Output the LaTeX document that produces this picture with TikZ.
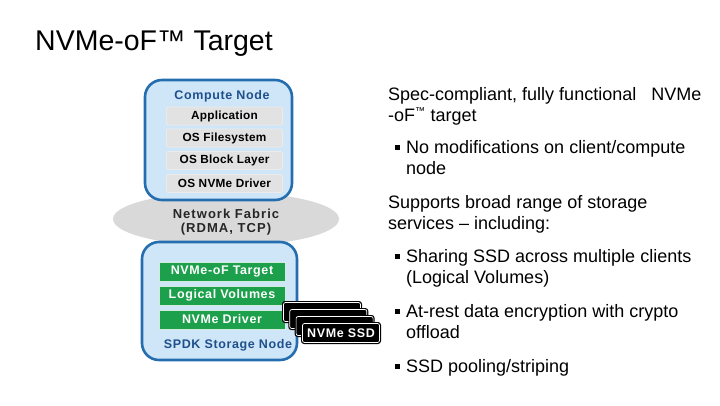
\documentclass[tikz,border=0pt]{standalone}
\usepackage{fontspec}
\setmainfont{Liberation Sans}
\newfontfamily\spacedfont[LetterSpace=5]{Liberation Sans}
\newfontfamily\widefont[LetterSpace=8]{Liberation Sans}
\newfontfamily\layerfont[LetterSpace=2]{Liberation Sans}
\usetikzlibrary{shapes.geometric}
\definecolor{nodeblue}{RGB}{36,110,175}
\definecolor{nodefill}{RGB}{207,229,248}
\definecolor{labelblue}{RGB}{30,80,140}
\definecolor{layergray}{RGB}{226,226,226}
\definecolor{fabricgray}{RGB}{217,217,217}
\definecolor{layergreen}{RGB}{28,160,75}
\begin{document}
\begin{tikzpicture}[x=1pt,y=-1pt,
  hostbox/.style={draw=nodeblue,line width=2.6pt,fill=nodefill,rounded corners=17pt},
  graylayer/.style={draw=white!92!black,line width=0.8pt,fill=layergray,rounded corners=1.5pt,minimum width=116pt,minimum height=18pt,inner sep=0pt,font=\layerfont\fontsize{11.8}{12}\selectfont\bfseries},
  greenlayer/.style={draw=white!80!layergreen,line width=0.5pt,fill=layergreen,text=white,minimum width=126pt,minimum height=19pt,inner sep=0pt,font=\spacedfont\fontsize{12.5}{13}\selectfont\bfseries},
  hostlabel/.style={text=labelblue,font=\spacedfont\fontsize{12.5}{13}\selectfont\bfseries,inner sep=0pt},
  bodytext/.style={anchor=base west,inner sep=0pt,font=\fontsize{18}{20}\selectfont},
  bulletsq/.style={fill=black,minimum size=5pt,inner sep=0pt},
  ssdcard/.style={fill=black,draw=white,line width=0.7pt,rounded corners=2pt}
]
\useasboundingbox (0,0) rectangle (720,405);
% title
\node[anchor=base west,inner sep=0pt,font=\fontsize{28.5}{30}\selectfont] (title) at (35,50) {NVMe-oF™ Target};
% fabric
\node[ellipse,fill=fabricgray,minimum width=226pt,minimum height=54pt,inner sep=0pt] (fabric) at (226,219) {};
\node[font=\widefont\fontsize{13}{14}\selectfont\bfseries,align=center,text=black!85] (fabrictext) at (226,222) {Network Fabric\\[0pt](RDMA, TCP)};
% compute node
\draw[hostbox] (145,80) rectangle (292,200);
\node[hostlabel] (cnlabel) at (222,96) {Compute Node};
\node[graylayer] (app) at (224.5,116) {Application};
\node[graylayer] (fs) at (224.5,138) {OS Filesystem};
\node[graylayer] (blk) at (224.5,160.5) {OS Block Layer};
\node[graylayer] (drv) at (224.5,183.5) {OS NVMe Driver};
% storage node
\draw[hostbox] (142,242) rectangle (297,360);
\node[greenlayer] (tgt) at (222,271.5) {NVMe-oF Target};
\node[greenlayer] (lv) at (222,295.5) {Logical Volumes};
\node[greenlayer] (nd) at (222,319.5) {NVMe Driver};
\node[hostlabel] (snlabel) at (228,345) {SPDK Storage Node};
% SSD stack
\foreach \i in {0,1,2} {
  \path[fill=black,rounded corners=3pt] ({282+6.3*\i},{301+7*\i}) rectangle ++(80,22);
  \draw[ssdcard] ({283.5+6.3*\i},{302.5+7*\i}) rectangle ++(77,19);
}
\path[fill=black,rounded corners=3pt] (301,322) rectangle (381,344);
\node[ssdcard,minimum width=77pt,minimum height=19pt,inner sep=0pt,text=white,font=\spacedfont\fontsize{12.5}{13}\selectfont\bfseries] (ssd) at (341,333) {NVMe SSD};
% right text
\node[bodytext] (t1) at (388,100) {Spec-compliant, fully functional\ \ \ NVMe};
\node[bodytext] (t2) at (388,121) {-oF\textsuperscript{\fontsize{10}{10}\selectfont ™} target};
\node[bulletsq] (b1) at (397.5,147.5) {};
\node[bodytext] (t3) at (406,153) {No modifications on client/compute};
\node[bodytext] (t4) at (406,174) {node};
\node[bodytext] (t5) at (388,208) {Supports broad range of storage};
\node[bodytext] (t6) at (388,229) {services – including:};
\node[bulletsq] (b2) at (397.5,256.5) {};
\node[bodytext] (t7) at (406,262) {Sharing SSD across multiple clients};
\node[bodytext] (t8) at (406,283) {(Logical Volumes)};
\node[bulletsq] (b3) at (397.5,311.5) {};
\node[bodytext] (t9) at (406,317) {At-rest data encryption with crypto};
\node[bodytext] (t10) at (406,338) {offload};
\node[bulletsq] (b4) at (397.5,366.5) {};
\node[bodytext] (t11) at (406,372) {SSD pooling/striping};
\end{tikzpicture}
\end{document}
